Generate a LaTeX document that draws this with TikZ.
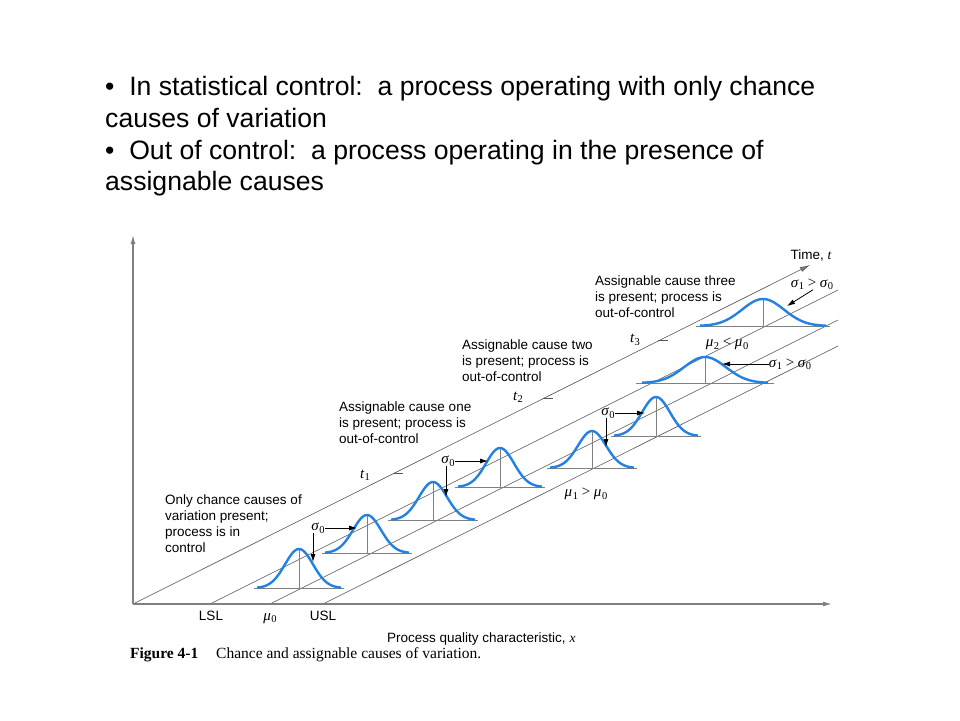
\documentclass[tikz,border=0pt]{standalone}
\usepackage{fontspec}
\setmainfont{Liberation Sans}
\newfontfamily\tms{Liberation Serif}
\usetikzlibrary{arrows.meta}

\definecolor{bellblue}{RGB}{35,130,225}
\definecolor{axisgray}{RGB}{128,128,128}
\definecolor{linegray}{RGB}{85,85,85}

\tikzset{
  axisline/.style={draw=axisgray, line width=1.3pt, -{Latex[length=9pt,width=5pt]}},
  diag/.style={draw=linegray, line width=0.6pt},
  timeaxis/.style={draw=linegray, line width=0.6pt, -{Latex[length=10pt,width=5pt,fill=axisgray]}},
  bellc/.style={draw=bellblue, line width=2.4pt},
  belllines/.style={draw=axisgray, line width=0.9pt},
  ptr/.style={draw=black, line width=0.8pt, -{Latex[length=8pt,width=5pt]}},
  lab/.style={inner sep=0pt, anchor=base west, font=\fontsize{13.5}{16}\selectfont},
  big/.style={inner sep=0pt, anchor=base west, font=\fontsize{26.6}{32}\selectfont},
  mlab/.style={inner sep=0pt, font=\tms\fontsize{15}{16}\selectfont},
}

% italic serif symbol with lowered subscript
\newcommand\gsub[2]{{\itshape #1}\kern0.5pt\raisebox{-0.35ex}{\fontsize{10.5}{11}\selectfont #2}}

\newcommand\bellcurve[5]{%
  \draw[belllines] ({#1-#5},#2) -- ({#1+#5},#2);
  \draw[belllines] (#1,#2) -- (#1,{#2-#3});
  \draw[bellc] plot[domain=-3:3,samples=61,smooth] ({#1+\x*#4},{#2-#3*exp(-0.5*(\x)*(\x))});
}

\begin{document}
\begin{tikzpicture}[x=1pt,y=-1pt]
\useasboundingbox (0,0) rectangle (960,720);
\fill[white] (0,0) rectangle (960,720);

% top text
\node[big] (b1) at (105,95) {•\ \ In statistical control:\ \ a process operating with only chance};
\node[big] (b2) at (105,127) {causes of variation};
\node[big] (b3) at (105,159) {•\ \ Out of control:\ \ a process operating in the presence of};
\node[big] (b4) at (105,190) {assignable causes};

% axes
\coordinate (O) at (133,604);
\coordinate (ytop) at (133,235);
\coordinate (xend) at (832,604);
\coordinate (tend) at (810,265);
\coordinate (l1s) at (210,604); \coordinate (l1e) at (838,290);
\coordinate (l2s) at (270,604); \coordinate (l2e) at (838,320);
\coordinate (l3s) at (323,604); \coordinate (l3e) at (838,346);
\draw[diag] (l1s) -- (l1e);
\draw[diag] (l2s) -- (l2e);
\draw[diag] (l3s) -- (l3e);
\draw[timeaxis] (O) -- (tend);
\draw[axisline] (O) -- (ytop);
\draw[axisline] (O) -- (xend);

% ticks on time axis
\draw[diag] (393,473) -- (403,473);
\draw[diag] (543,398) -- (553,398);
\draw[diag] (658,340) -- (668,340);
\node[mlab] (t1) at (365,475) {\gsub{t}{1}};
\node[mlab] (t2) at (518,397) {\gsub{t}{2}};
\node[mlab] (t3) at (635,340) {\gsub{t}{3}};
\node[lab, anchor=base] (time) at (811,259) {Time, {\tms\itshape t}};

% bells
\bellcurve{299}{588}{39}{14}{45}
\bellcurve{367}{553}{38}{14}{45}
\bellcurve{433}{520}{38}{14}{45}
\bellcurve{500}{487}{39}{14}{45}
\bellcurve{592}{468}{37}{14}{45}
\bellcurve{656}{436}{39}{14}{45}
\bellcurve{705}{383}{26}{21}{69}
\bellcurve{763}{326}{27}{21}{67}

% sigma labels and pointers
\node[mlab] (s0a) at (318,528) {\gsub{σ}{0}};
\coordinate (a1v) at (313,562);
\coordinate (a1h) at (357,527);
\draw[ptr] (s0a.south -| a1v) -- (a1v);
\draw[ptr] (s0a.east) -- (s0a.east -| a1h);

\node[mlab] (s0b) at (448,461) {\gsub{σ}{0}};
\coordinate (a2v) at (446,497);
\coordinate (a2h) at (488,459);
\draw[ptr] (s0b.south -| a2v) -- (a2v);
\draw[ptr] (s0b.east) -- (s0b.east -| a2h);

\node[mlab] (s0c) at (608,413) {\gsub{σ}{0}};
\coordinate (a3v) at (606,447);
\coordinate (a3h) at (645,412);
\draw[ptr] (s0c.south -| a3v) -- (a3v);
\draw[ptr] (s0c.east) -- (s0c.east -| a3h);

\node[mlab] (s1a) at (790,364) {\gsub{σ}{1}\ >\ \gsub{σ}{0}};
\coordinate (a4) at (722,364);
\draw[ptr] (s1a.west) -- (a4);

\node[mlab] (s1b) at (812,284) {\gsub{σ}{1}\ >\ \gsub{σ}{0}};
\coordinate (a5) at (787,306);
\draw[ptr] ([xshift=1pt]s1b.south) -- (a5);

\node[mlab] (m1) at (586,494) {\gsub{μ}{1}\ >\ \gsub{μ}{0}};
\node[mlab] (m2) at (727,344) {\gsub{μ}{2}\ <\ \gsub{μ}{0}};

% cause texts
\node[lab] (c0a) at (165,504) {Only chance causes of};
\node[lab] (c0b) at (165,520) {variation present;};
\node[lab] (c0c) at (165,536) {process is in};
\node[lab] (c0d) at (165,552) {control};

\node[lab] (c1a) at (339,411) {Assignable cause one};
\node[lab] (c1b) at (339,427) {is present; process is};
\node[lab] (c1c) at (339,443) {out-of-control};

\node[lab] (c2a) at (462,349) {Assignable cause two};
\node[lab] (c2b) at (462,365) {is present; process is};
\node[lab] (c2c) at (462,381) {out-of-control};

\node[lab] (c3a) at (595,285) {Assignable cause three};
\node[lab] (c3b) at (595,301) {is present; process is};
\node[lab] (c3c) at (595,317) {out-of-control};

% axis labels
\node[lab, anchor=base] (lsl) at (211,620) {LSL};
\node[mlab, anchor=base] (mu0) at (270,620) {\gsub{μ}{0}};
\node[lab, anchor=base] (usl) at (323,620) {USL};
\node[lab] (xlab) at (387,642) {Process quality characteristic, {\tms\itshape x}};

% caption
\node[inner sep=0pt, anchor=base west, font=\tms\fontsize{15.5}{18}\selectfont] (cap) at (130,658)
  {\textbf{Figure 4-1}\hspace{1.15em}Chance and assignable causes of variation.};
\end{tikzpicture}
\end{document}
